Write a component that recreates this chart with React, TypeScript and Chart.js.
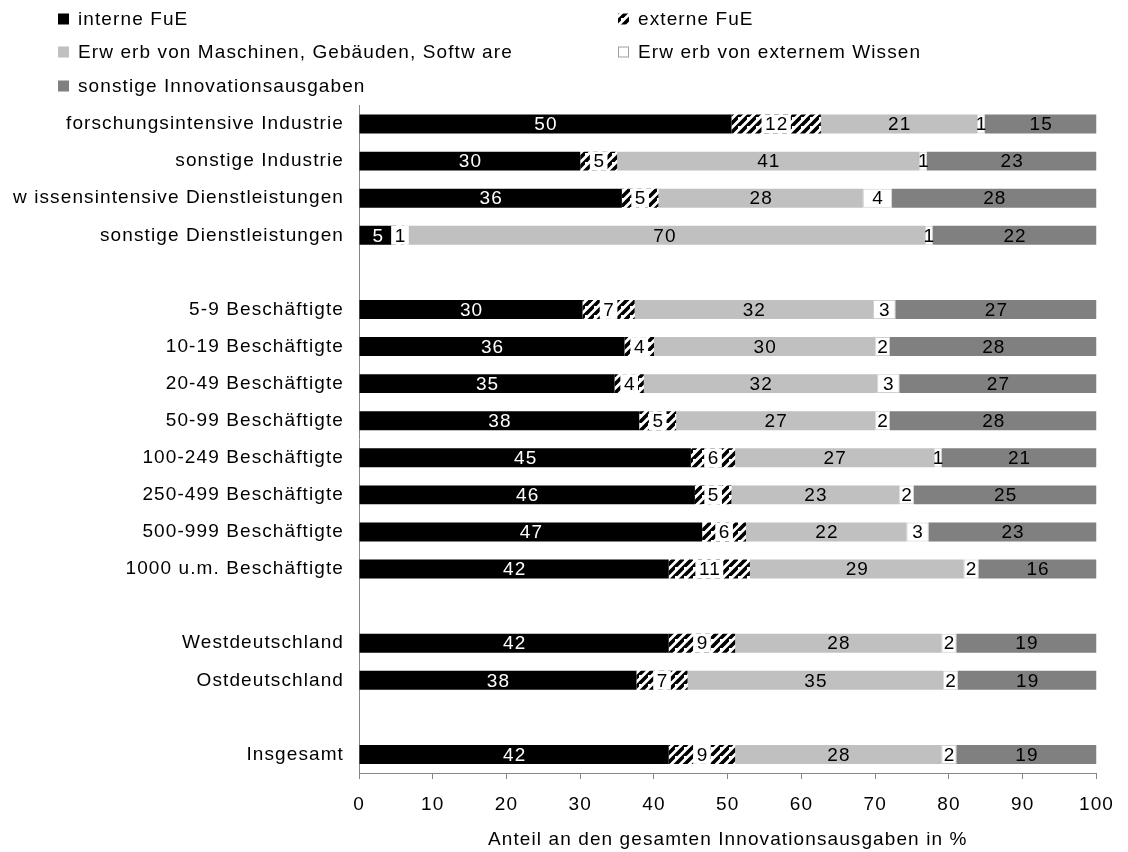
import React, { useEffect, useRef } from 'react';
import { Chart, registerables } from 'chart.js';

Chart.register(...registerables);

const categories = [
  'forschungsintensive Industrie',
  'sonstige Industrie',
  'w issensintensive Dienstleistungen',
  'sonstige Dienstleistungen',
  '',
  '5-9 Beschäftigte',
  '10-19 Beschäftigte',
  '20-49 Beschäftigte',
  '50-99 Beschäftigte',
  '100-249 Beschäftigte',
  '250-499 Beschäftigte',
  '500-999 Beschäftigte',
  '1000 u.m. Beschäftigte',
  '',
  'Westdeutschland',
  'Ostdeutschland',
  '',
  'Insgesamt',
];

const interneFuE = [50, 30, 36, 5, null, 30, 36, 35, 38, 45, 46, 47, 42, null, 42, 38, null, 42];
const externeFuE = [12, 5, 5, 1, null, 7, 4, 4, 5, 6, 5, 6, 11, null, 9, 7, null, 9];
const erwerbMaschinen = [21, 41, 28, 70, null, 32, 30, 32, 27, 27, 23, 22, 29, null, 28, 35, null, 28];
const erwerbWissen = [1, 1, 4, 1, null, 3, 2, 3, 2, 1, 2, 3, 2, null, 2, 2, null, 2];
const sonstigeAusgaben = [15, 23, 28, 22, null, 27, 28, 27, 28, 21, 25, 23, 16, null, 19, 19, null, 19];

const seriesNames = [
  'interne FuE',
  'externe FuE',
  'Erw erb von Maschinen, Gebäuden, Softw are',
  'Erw erb von externem Wissen',
  'sonstige Innovationsausgaben',
];
const rawSeries: (number | null)[][] = [interneFuE, externeFuE, erwerbMaschinen, erwerbWissen, sonstigeAusgaben];

const xMin = 0;
const xMax = 100;
const xStep = 10;
const axisTitle = 'Anteil an den gesamten Innovationsausgaben in %';

const FONT = "'Liberation Sans', Arial, Helvetica, sans-serif";
const FONT_SIZE = 19;
const SPACING = 1.1;

const rowTotal = (i: number) => rawSeries.reduce((s, arr) => s + (arr[i] ?? 0), 0);
const share = (arr: (number | null)[]) => arr.map((v, i) => (v == null ? null : (v / rowTotal(i)) * 100));

function makeHatch(ctx: CanvasRenderingContext2D): CanvasPattern | string {
  const n = 9;
  const c = document.createElement('canvas');
  c.width = n;
  c.height = n;
  const g = c.getContext('2d');
  if (!g) return '#000';
  g.fillStyle = '#fff';
  g.fillRect(0, 0, n, n);
  g.strokeStyle = '#000';
  g.lineWidth = 3.6;
  g.beginPath();
  g.moveTo(-3, n + 3);
  g.lineTo(n + 3, -3);
  g.moveTo(-n - 3, 3);
  g.lineTo(3, -n - 3);
  g.moveTo(-3, 2 * n + 3);
  g.lineTo(2 * n + 3, -3);
  g.stroke();
  return ctx.createPattern(c, 'repeat') || '#000';
}

export default function App() {
  const canvasRef = useRef<HTMLCanvasElement | null>(null);

  useEffect(() => {
    document.body.style.margin = '0';
    const canvas = canvasRef.current;
    if (!canvas) return;
    const ctx0 = canvas.getContext('2d');
    if (!ctx0) return;
    const hatch = makeHatch(ctx0);
    const colors: any[] = ['#000000', hatch, '#c0c0c0', '#ffffff', '#808080'];

    const spacingPlugin = {
      id: 'spacing',
      beforeLayout(chart: any) {
        chart.ctx.letterSpacing = SPACING + 'px';
      },
      beforeDraw(chart: any) {
        chart.ctx.letterSpacing = SPACING + 'px';
      },
    };

    const labelPlugin = {
      id: 'barLabels',
      afterDatasetsDraw(chart: any) {
        const ctx = chart.ctx;
        ctx.save();
        ctx.font = `${FONT_SIZE}px ${FONT}`;
        ctx.letterSpacing = SPACING + 'px';
        ctx.textAlign = 'center';
        ctx.textBaseline = 'middle';
        chart.data.datasets.forEach((ds: any, di: number) => {
          const meta = chart.getDatasetMeta(di);
          meta.data.forEach((bar: any, i: number) => {
            const v = rawSeries[di][i];
            if (v == null) return;
            const x = (bar.x + bar.base) / 2;
            const y = bar.y;
            const text = String(v);
            if (di === 1) {
              const w = ctx.measureText(text).width + 6;
              ctx.fillStyle = '#ffffff';
              ctx.fillRect(x - w / 2, y - bar.height / 2, w, bar.height);
            }
            ctx.fillStyle = di === 0 ? '#ffffff' : '#000000';
            ctx.fillText(text, x + SPACING / 2, y + 1);
          });
        });
        ctx.restore();
      },
    };

    const legendPlugin = {
      id: 'gridLegend',
      afterDraw(chart: any) {
        const ctx = chart.ctx;
        const pos = [
          [58, 19],
          [618, 19],
          [58, 52],
          [618, 52],
          [58, 86],
        ];
        ctx.save();
        ctx.font = `${FONT_SIZE}px ${FONT}`;
        ctx.letterSpacing = SPACING + 'px';
        ctx.textAlign = 'left';
        ctx.textBaseline = 'middle';
        chart.data.datasets.forEach((ds: any, di: number) => {
          const [x, y] = pos[di];
          const s = 11;
          ctx.fillStyle = ds.backgroundColor;
          ctx.fillRect(x, y - s / 2, s, s);
          if (di === 3) {
            ctx.strokeStyle = '#a0a0a0';
            ctx.lineWidth = 1;
            ctx.strokeRect(x + 0.5, y - s / 2 + 0.5, s - 1, s - 1);
          }
          ctx.fillStyle = '#000';
          ctx.fillText(ds.label, x + 20, y + 1);
        });
        ctx.restore();
      },
    };

    const chart = new Chart(canvas, {
      type: 'bar',
      data: {
        labels: categories,
        datasets: seriesNames.map((name, k) => ({
          label: name,
          data: share(rawSeries[k]),
          backgroundColor: colors[k],
          borderColor: k === 3 ? '#d0d0d0' : 'rgba(0,0,0,0)',
          borderWidth: k === 3 ? 1 : 0,
          borderSkipped: false,
          barPercentage: 0.51,
          categoryPercentage: 1,
        })),
      },
      options: {
        indexAxis: 'y',
        responsive: false,
        animation: false,
        layout: { padding: { top: 105.5, right: 21, bottom: 0, left: 0 } },
        plugins: { legend: { display: false }, tooltip: { enabled: false } },
        scales: {
          x: {
            stacked: true,
            min: xMin,
            max: xMax,
            ticks: { stepSize: xStep, color: '#000', font: { size: FONT_SIZE, family: FONT }, padding: 14 },
            grid: { drawOnChartArea: false, drawTicks: true, tickLength: 6, color: '#868686' },
            border: { display: true, color: '#868686' },
            title: {
              display: true,
              text: axisTitle,
              color: '#000',
              font: { size: FONT_SIZE, family: FONT },
              padding: { top: 0, bottom: 1 },
            },
            afterFit: (s: any) => {
              s.height = 79;
            },
          },
          y: {
            stacked: true,
            ticks: { color: '#000', font: { size: FONT_SIZE, family: FONT }, padding: 15, autoSkip: false },
            grid: { display: false, drawTicks: false },
            border: { display: true, color: '#868686' },
            afterFit: (s: any) => {
              s.width = 359;
            },
          },
        },
      } as any,
      plugins: [spacingPlugin, labelPlugin, legendPlugin],
    });
    return () => chart.destroy();
  }, []);

  return (
    <div style={{ width: 1128, height: 852 }}>
      <canvas ref={canvasRef} width={1128} height={852} style={{ display: 'block', width: 1128, height: 852 }} />
    </div>
  );
}
